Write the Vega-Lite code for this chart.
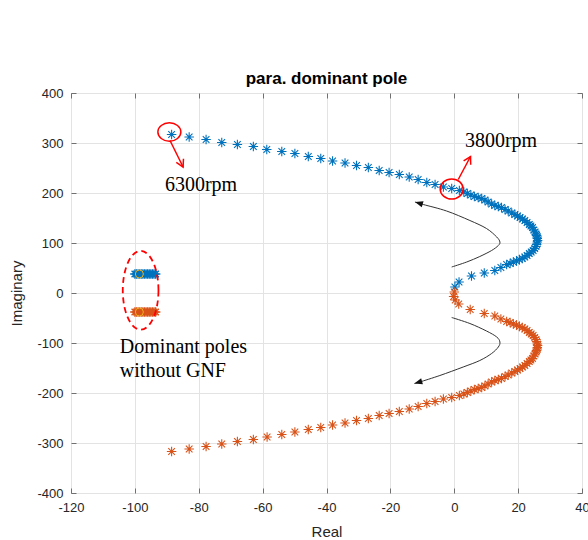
{
  "$schema": "https://vega.github.io/schema/vega-lite/v6.json",
  "width": 511,
  "height": 400,
  "autosize": {"type": "none"},
  "padding": {"left": 71, "top": 93, "right": 6, "bottom": 47},
  "title": {"text": "para. dominant pole", "font": "Liberation Sans", "fontSize": 17, "fontWeight": "bold", "color": "#000000", "frame": "group", "baseline": "alphabetic", "offset": -14},
  "datasets": {
    "poles": [
      {"series": "blue", "re": -88.5, "im": 317}, {"series": "blue", "re": -83.0, "im": 312}, {"series": "blue", "re": -77.7, "im": 307}, {"series": "blue", "re": -72.8, "im": 301},
      {"series": "blue", "re": -67.9, "im": 297}, {"series": "blue", "re": -62.9, "im": 293}, {"series": "blue", "re": -58.7, "im": 287}, {"series": "blue", "re": -54.0, "im": 283},
      {"series": "blue", "re": -49.9, "im": 279}, {"series": "blue", "re": -45.7, "im": 273}, {"series": "blue", "re": -41.8, "im": 269}, {"series": "blue", "re": -38.1, "im": 264},
      {"series": "blue", "re": -34.2, "im": 260}, {"series": "blue", "re": -30.6, "im": 255}, {"series": "blue", "re": -26.9, "im": 251}, {"series": "blue", "re": -23.5, "im": 245},
      {"series": "blue", "re": -20.4, "im": 241}, {"series": "blue", "re": -17.2, "im": 237}, {"series": "blue", "re": -14.1, "im": 232}, {"series": "blue", "re": -11.3, "im": 227},
      {"series": "blue", "re": -8.6, "im": 221}, {"series": "blue", "re": -6.0, "im": 217}, {"series": "blue", "re": -3.4, "im": 212}, {"series": "blue", "re": -0.8, "im": 209},
      {"series": "blue", "re": 1.6, "im": 205}, {"series": "blue", "re": 3.0, "im": 202}, {"series": "blue", "re": 4.1, "im": 199}, {"series": "blue", "re": 5.2, "im": 196},
      {"series": "blue", "re": 6.3, "im": 193}, {"series": "blue", "re": 7.5, "im": 191}, {"series": "blue", "re": 8.6, "im": 189}, {"series": "blue", "re": 9.6, "im": 186},
      {"series": "blue", "re": 10.6, "im": 182}, {"series": "blue", "re": 11.7, "im": 178}, {"series": "blue", "re": 12.7, "im": 175}, {"series": "blue", "re": 13.8, "im": 173},
      {"series": "blue", "re": 14.8, "im": 171}, {"series": "blue", "re": 15.9, "im": 167}, {"series": "blue", "re": 16.9, "im": 164}, {"series": "blue", "re": 18.0, "im": 160},
      {"series": "blue", "re": 19.0, "im": 157}, {"series": "blue", "re": 19.8, "im": 154}, {"series": "blue", "re": 20.6, "im": 151}, {"series": "blue", "re": 21.4, "im": 148},
      {"series": "blue", "re": 22.1, "im": 145}, {"series": "blue", "re": 22.8, "im": 141}, {"series": "blue", "re": 23.5, "im": 137}, {"series": "blue", "re": 24.0, "im": 134},
      {"series": "blue", "re": 24.5, "im": 131}, {"series": "blue", "re": 24.9, "im": 126}, {"series": "blue", "re": 25.3, "im": 122}, {"series": "blue", "re": 25.6, "im": 118},
      {"series": "blue", "re": 25.8, "im": 115}, {"series": "blue", "re": 26.0, "im": 112}, {"series": "blue", "re": 26.0, "im": 109}, {"series": "blue", "re": 26.1, "im": 105},
      {"series": "blue", "re": 26.0, "im": 102}, {"series": "blue", "re": 25.8, "im": 97}, {"series": "blue", "re": 25.6, "im": 93}, {"series": "blue", "re": 25.2, "im": 89},
      {"series": "blue", "re": 24.7, "im": 85}, {"series": "blue", "re": 24.1, "im": 82}, {"series": "blue", "re": 23.5, "im": 79}, {"series": "blue", "re": 22.8, "im": 75},
      {"series": "blue", "re": 22.1, "im": 72}, {"series": "blue", "re": 21.3, "im": 69}, {"series": "blue", "re": 20.4, "im": 67}, {"series": "blue", "re": 19.5, "im": 64},
      {"series": "blue", "re": 18.5, "im": 62}, {"series": "blue", "re": 17.5, "im": 59}, {"series": "blue", "re": 16.4, "im": 57}, {"series": "blue", "re": 14.6, "im": 51},
      {"series": "blue", "re": 12.7, "im": 45}, {"series": "blue", "re": 9.4, "im": 40}, {"series": "blue", "re": 5.4, "im": 34}, {"series": "blue", "re": 1.5, "im": 22},
      {"series": "blue", "re": 0.2, "im": 12},
      {"series": "orange", "re": -88.5, "im": -317}, {"series": "orange", "re": -83.0, "im": -312}, {"series": "orange", "re": -77.7, "im": -307}, {"series": "orange", "re": -72.8, "im": -302},
      {"series": "orange", "re": -67.9, "im": -297}, {"series": "orange", "re": -62.9, "im": -293}, {"series": "orange", "re": -58.6, "im": -288}, {"series": "orange", "re": -54.0, "im": -283},
      {"series": "orange", "re": -49.9, "im": -278}, {"series": "orange", "re": -45.7, "im": -273}, {"series": "orange", "re": -41.8, "im": -269}, {"series": "orange", "re": -38.1, "im": -264},
      {"series": "orange", "re": -34.2, "im": -260}, {"series": "orange", "re": -30.6, "im": -255}, {"series": "orange", "re": -26.9, "im": -251}, {"series": "orange", "re": -23.5, "im": -245},
      {"series": "orange", "re": -20.4, "im": -241}, {"series": "orange", "re": -17.2, "im": -237}, {"series": "orange", "re": -14.1, "im": -232}, {"series": "orange", "re": -11.3, "im": -227},
      {"series": "orange", "re": -8.6, "im": -221}, {"series": "orange", "re": -6.0, "im": -217}, {"series": "orange", "re": -3.4, "im": -212}, {"series": "orange", "re": -0.8, "im": -209},
      {"series": "orange", "re": 1.6, "im": -205}, {"series": "orange", "re": 3.0, "im": -202}, {"series": "orange", "re": 4.1, "im": -199}, {"series": "orange", "re": 5.2, "im": -196},
      {"series": "orange", "re": 6.3, "im": -193}, {"series": "orange", "re": 7.5, "im": -191}, {"series": "orange", "re": 8.6, "im": -189}, {"series": "orange", "re": 9.6, "im": -186},
      {"series": "orange", "re": 10.6, "im": -182}, {"series": "orange", "re": 11.7, "im": -178}, {"series": "orange", "re": 12.7, "im": -175}, {"series": "orange", "re": 13.8, "im": -173},
      {"series": "orange", "re": 14.8, "im": -171}, {"series": "orange", "re": 15.9, "im": -167}, {"series": "orange", "re": 16.9, "im": -164}, {"series": "orange", "re": 18.0, "im": -160},
      {"series": "orange", "re": 19.0, "im": -157}, {"series": "orange", "re": 19.8, "im": -154}, {"series": "orange", "re": 20.6, "im": -151}, {"series": "orange", "re": 21.4, "im": -148},
      {"series": "orange", "re": 22.1, "im": -145}, {"series": "orange", "re": 22.8, "im": -141}, {"series": "orange", "re": 23.5, "im": -137}, {"series": "orange", "re": 24.0, "im": -134},
      {"series": "orange", "re": 24.5, "im": -131}, {"series": "orange", "re": 24.9, "im": -126}, {"series": "orange", "re": 25.3, "im": -122}, {"series": "orange", "re": 25.6, "im": -118},
      {"series": "orange", "re": 25.8, "im": -115}, {"series": "orange", "re": 26.0, "im": -112}, {"series": "orange", "re": 26.0, "im": -109}, {"series": "orange", "re": 26.1, "im": -105},
      {"series": "orange", "re": 26.0, "im": -102}, {"series": "orange", "re": 25.8, "im": -97}, {"series": "orange", "re": 25.6, "im": -93}, {"series": "orange", "re": 25.2, "im": -89},
      {"series": "orange", "re": 24.7, "im": -85}, {"series": "orange", "re": 24.1, "im": -82}, {"series": "orange", "re": 23.5, "im": -79}, {"series": "orange", "re": 22.8, "im": -75},
      {"series": "orange", "re": 22.1, "im": -72}, {"series": "orange", "re": 21.3, "im": -69}, {"series": "orange", "re": 20.4, "im": -67}, {"series": "orange", "re": 19.5, "im": -64},
      {"series": "orange", "re": 18.5, "im": -62}, {"series": "orange", "re": 17.5, "im": -59}, {"series": "orange", "re": 16.4, "im": -57}, {"series": "orange", "re": 14.6, "im": -52},
      {"series": "orange", "re": 12.7, "im": -46}, {"series": "orange", "re": 9.4, "im": -41}, {"series": "orange", "re": 5.0, "im": -33}, {"series": "orange", "re": 1.4, "im": -22},
      {"series": "orange", "re": 0.3, "im": -14}, {"series": "orange", "re": -0.2, "im": -7}, {"series": "orange", "re": 0.0, "im": 2}
    ],
    "clusters": [
      {"series": "blue", "re": -100.0, "im": 38}, {"series": "blue", "re": -99.5, "im": 38}, {"series": "blue", "re": -99.0, "im": 38}, {"series": "blue", "re": -98.5, "im": 38},
      {"series": "blue", "re": -98.0, "im": 38}, {"series": "blue", "re": -97.5, "im": 38}, {"series": "blue", "re": -97.0, "im": 38}, {"series": "blue", "re": -96.5, "im": 38},
      {"series": "blue", "re": -96.0, "im": 38}, {"series": "blue", "re": -95.5, "im": 38}, {"series": "blue", "re": -95.0, "im": 38}, {"series": "blue", "re": -94.5, "im": 38},
      {"series": "blue", "re": -94.0, "im": 38}, {"series": "blue", "re": -93.5, "im": 38},
      {"series": "orange", "re": -100.0, "im": -38}, {"series": "orange", "re": -99.5, "im": -38}, {"series": "orange", "re": -99.0, "im": -38}, {"series": "orange", "re": -98.5, "im": -38},
      {"series": "orange", "re": -98.0, "im": -38}, {"series": "orange", "re": -97.5, "im": -38}, {"series": "orange", "re": -97.0, "im": -38}, {"series": "orange", "re": -96.5, "im": -38},
      {"series": "orange", "re": -96.0, "im": -38}, {"series": "orange", "re": -95.5, "im": -38}, {"series": "orange", "re": -95.0, "im": -38}, {"series": "orange", "re": -94.5, "im": -38},
      {"series": "orange", "re": -94.0, "im": -38}, {"series": "orange", "re": -93.5, "im": -38}
    ],
    "centres": [
      {"re": -98.6, "im": 38}, {"re": -98.6, "im": -38}
    ],
    "curves": [
      {"arrow": "up", "k": 0, "re": -0.8, "im": 52}, {"arrow": "up", "k": 1, "re": 3.9, "im": 62}, {"arrow": "up", "k": 2, "re": 8.0, "im": 73},
      {"arrow": "up", "k": 3, "re": 11.7, "im": 85}, {"arrow": "up", "k": 4, "re": 13.8, "im": 95}, {"arrow": "up", "k": 5, "re": 14.3, "im": 102},
      {"arrow": "up", "k": 6, "re": 13.3, "im": 112}, {"arrow": "up", "k": 7, "re": 10.1, "im": 129}, {"arrow": "up", "k": 8, "re": 4.9, "im": 145},
      {"arrow": "up", "k": 9, "re": -2.4, "im": 164}, {"arrow": "up", "k": 10, "re": -9.7, "im": 177}, {"arrow": "up", "k": 11, "re": -12.3, "im": 182},
      {"arrow": "down", "k": 0, "re": -0.8, "im": -49}, {"arrow": "down", "k": 1, "re": 4.9, "im": -61}, {"arrow": "down", "k": 2, "re": 10.1, "im": -76},
      {"arrow": "down", "k": 3, "re": 13.3, "im": -88}, {"arrow": "down", "k": 4, "re": 14.3, "im": -98}, {"arrow": "down", "k": 5, "re": 13.8, "im": -108},
      {"arrow": "down", "k": 6, "re": 11.7, "im": -121}, {"arrow": "down", "k": 7, "re": 8.0, "im": -135}, {"arrow": "down", "k": 8, "re": 2.8, "im": -148},
      {"arrow": "down", "k": 9, "re": -4.5, "im": -165}, {"arrow": "down", "k": 10, "re": -10.8, "im": -178}, {"arrow": "down", "k": 11, "re": -12.5, "im": -181}
    ],
    "redarrows": [
      {"arrow": "a", "k": 0, "re": -89.0, "im": 305}, {"arrow": "a", "k": 1, "re": -84.9, "im": 252},
      {"arrow": "b", "k": 0, "re": 1.25, "im": 227}, {"arrow": "b", "k": 1, "re": 5.1, "im": 273}
    ],
    "texts": [
      {"label": "6300rpm", "re": -90.6, "im": 205},
      {"label": "3800rpm", "re": 3.35, "im": 293},
      {"label": "Dominant poles", "re": -104.7, "im": -120},
      {"label": "without GNF", "re": -104.7, "im": -168}
    ]
  },
  "layer": [
    {
      "data": {"name": "poles"},
      "mark": {"type": "point", "shape": "M-1,0L1,0M0,-1L0,1M-0.7,-0.7L0.7,0.7M-0.7,0.7L0.7,-0.7", "filled": false, "size": 90, "strokeWidth": 1.1, "opacity": 1},
      "encoding": {
        "x": {"field": "re", "type": "quantitative", "scale": {"domain": [-120, 40], "nice": false, "zero": false},
              "axis": {"orient": "bottom", "title": "Real", "values": [-120, -100, -80, -60, -40, -20, 0, 20, 40], "grid": true, "domain": false, "tickSize": -5, "labelPadding": 13, "titlePadding": 10, "labelExpr": "'' + datum.value", "labelFlush": false}},
        "y": {"field": "im", "type": "quantitative", "scale": {"domain": [-400, 400], "nice": false, "zero": false},
              "axis": {"orient": "left", "title": "Imaginary", "values": [-400, -300, -200, -100, 0, 100, 200, 300, 400], "grid": true, "domain": false, "tickSize": -5, "labelPadding": 13, "titlePadding": 12, "labelExpr": "'' + datum.value", "labelFlush": false}},
        "color": {"field": "series", "type": "nominal", "scale": {"domain": ["blue", "orange"], "range": ["#0072BD", "#D95319"]}, "legend": null}
      }
    },
    {
      "data": {"name": "clusters"},
      "mark": {"type": "point", "shape": "M-1,0L1,0M0,-1L0,1M-0.7,-0.7L0.7,0.7M-0.7,0.7L0.7,-0.7", "filled": false, "size": 90, "strokeWidth": 1.3, "opacity": 1},
      "encoding": {
        "x": {"field": "re", "type": "quantitative", "axis": {"orient": "top", "title": null, "labels": false, "values": [-120, -100, -80, -60, -40, -20, 0, 20, 40], "grid": false, "domain": false, "tickSize": -5}},
        "y": {"field": "im", "type": "quantitative", "axis": {"orient": "right", "title": null, "labels": false, "values": [-400, -300, -200, -100, 0, 100, 200, 300, 400], "grid": false, "domain": false, "tickSize": -5}},
        "color": {"field": "series", "type": "nominal", "legend": null}
      }
    },
    {
      "data": {"name": "centres"},
      "mark": {"type": "point", "shape": "circle", "filled": false, "size": 64, "strokeWidth": 1, "color": "#EDB120", "opacity": 1},
      "encoding": {
        "x": {"field": "re", "type": "quantitative", "axis": null},
        "y": {"field": "im", "type": "quantitative", "axis": null}
      }
    },
    {
      "data": {"name": "curves"},
      "mark": {"type": "line", "interpolate": "cardinal", "color": "#333333", "strokeWidth": 1},
      "encoding": {
        "x": {"field": "re", "type": "quantitative", "axis": null},
        "y": {"field": "im", "type": "quantitative", "axis": null},
        "detail": {"field": "arrow", "type": "nominal"},
        "order": {"field": "k", "type": "quantitative"}
      }
    },
    {
      "data": {"values": [{"re": -12.3, "im": 182}]},
      "mark": {"type": "point", "shape": "M0,0L-0.4,1L0.4,1Z", "filled": true, "color": "#111111", "size": 256, "angle": 286, "opacity": 1},
      "encoding": {
        "x": {"field": "re", "type": "quantitative", "axis": null},
        "y": {"field": "im", "type": "quantitative", "axis": null}
      }
    },
    {
      "data": {"values": [{"re": -12.5, "im": -181}]},
      "mark": {"type": "point", "shape": "M0,0L-0.4,1L0.4,1Z", "filled": true, "color": "#111111", "size": 256, "angle": 254, "opacity": 1},
      "encoding": {
        "x": {"field": "re", "type": "quantitative", "axis": null},
        "y": {"field": "im", "type": "quantitative", "axis": null}
      }
    },
    {
      "data": {"name": "redarrows"},
      "mark": {"type": "line", "color": "#FF0000", "strokeWidth": 1.5},
      "encoding": {
        "x": {"field": "re", "type": "quantitative", "axis": null},
        "y": {"field": "im", "type": "quantitative", "axis": null},
        "detail": {"field": "arrow", "type": "nominal"},
        "order": {"field": "k", "type": "quantitative"}
      }
    },
    {
      "data": {"values": [{"re": -84.9, "im": 252}]},
      "mark": {"type": "point", "shape": "M-0.5,0.9L0,0L0.5,0.9", "filled": false, "color": "#FF0000", "strokeWidth": 1.5, "size": 256, "angle": 153.5, "opacity": 1},
      "encoding": {
        "x": {"field": "re", "type": "quantitative", "axis": null},
        "y": {"field": "im", "type": "quantitative", "axis": null}
      }
    },
    {
      "data": {"values": [{"re": 5.1, "im": 273}]},
      "mark": {"type": "point", "shape": "M-0.5,0.9L0,0L0.5,0.9", "filled": false, "color": "#FF0000", "strokeWidth": 1.5, "size": 256, "angle": 28, "opacity": 1},
      "encoding": {
        "x": {"field": "re", "type": "quantitative", "axis": null},
        "y": {"field": "im", "type": "quantitative", "axis": null}
      }
    },
    {
      "data": {"values": [{"re": -89.2, "im": 322}]},
      "mark": {"type": "point", "shape": "M1,0C1,0.4418 0.5523,0.8 0,0.8C-0.5523,0.8 -1,0.4418 -1,0C-1,-0.4418 -0.5523,-0.8 0,-0.8C0.5523,-0.8 1,-0.4418 1,0Z", "filled": false, "color": "#FF0000", "strokeWidth": 1.5, "size": 529, "opacity": 1},
      "encoding": {
        "x": {"field": "re", "type": "quantitative", "axis": null},
        "y": {"field": "im", "type": "quantitative", "axis": null}
      }
    },
    {
      "data": {"values": [{"re": -0.8, "im": 208}]},
      "mark": {"type": "point", "shape": "M1,0C1,0.4805 0.5523,0.87 0,0.87C-0.5523,0.87 -1,0.4805 -1,0C-1,-0.4805 -0.5523,-0.87 0,-0.87C0.5523,-0.87 1,-0.4805 1,0Z", "filled": false, "color": "#FF0000", "strokeWidth": 1.5, "size": 529, "opacity": 1},
      "encoding": {
        "x": {"field": "re", "type": "quantitative", "axis": null},
        "y": {"field": "im", "type": "quantitative", "axis": null}
      }
    },
    {
      "data": {"values": [{"re": -98.2, "im": 5.4}]},
      "mark": {"type": "point", "shape": "M0.4536,0C0.4536,0.5523 0.2505,1 0,1C-0.2505,1 -0.4536,0.5523 -0.4536,0C-0.4536,-0.5523 -0.2505,-1 0,-1C0.2505,-1 0.4536,-0.5523 0.4536,0Z", "filled": false, "color": "#FF0000", "strokeWidth": 1.8, "strokeDash": [6, 4], "size": 6194, "opacity": 1},
      "encoding": {
        "x": {"field": "re", "type": "quantitative", "axis": null},
        "y": {"field": "im", "type": "quantitative", "axis": null}
      }
    },
    {
      "data": {"name": "texts"},
      "mark": {"type": "text", "font": "Liberation Serif", "fontSize": 20, "align": "left", "baseline": "alphabetic", "color": "#000000"},
      "encoding": {
        "x": {"field": "re", "type": "quantitative", "axis": null},
        "y": {"field": "im", "type": "quantitative", "axis": null},
        "text": {"field": "label", "type": "nominal"}
      }
    }
  ],
  "resolve": {"axis": {"x": "independent", "y": "independent"}},
  "config": {
    "view": {"stroke": "#707070", "strokeWidth": 1},
    "axis": {"labelFont": "Liberation Sans", "labelFontSize": 13, "labelColor": "#262626", "titleFont": "Liberation Sans", "titleFontSize": 15, "titleFontWeight": "normal", "titleColor": "#262626", "gridColor": "#e3e3e3", "gridWidth": 1, "tickColor": "#707070", "tickWidth": 1}
  }
}
